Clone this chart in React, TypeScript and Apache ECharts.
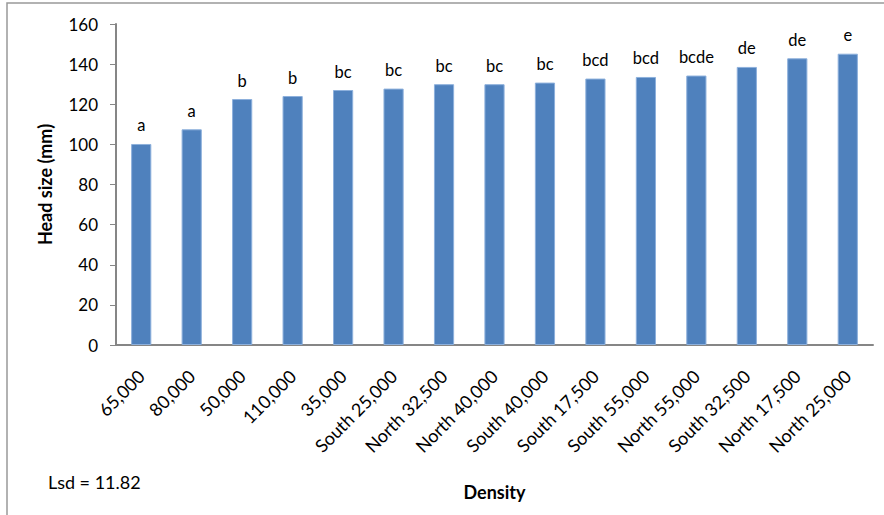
import React, { useEffect, useRef } from "react";
import * as echarts from "echarts";

const categories = [
  "65,000", "80,000", "50,000", "110,000", "35,000", "South 25,000", "North 32,500",
  "North 40,000", "South 40,000", "South 17,500", "South 55,000", "North 55,000",
  "South 32,500", "North 17,500", "North 25,000",
];
const headSize = [100.2, 107.5, 122.6, 124.1, 127.1, 127.8, 130.0, 130.0, 130.8, 132.8, 133.6, 134.3, 138.6, 142.9, 145.2];
const letters = ["a", "a", "b", "b", "bc", "bc", "bc", "bc", "bc", "bcd", "bcd", "bcde", "de", "de", "e"];
const yTicks = { min: 0, max: 160, interval: 20 };

const FONT = "Lato, 'Open Sans', sans-serif";

export default function App() {
  const ref = useRef<HTMLDivElement>(null);
  useEffect(() => {
    if (!ref.current) return;
    const chart = echarts.init(ref.current, undefined, { renderer: "svg" });
    chart.setOption({
      animation: false,
      backgroundColor: "#ffffff",
      textStyle: { fontFamily: FONT },
      grid: { left: 116, right: 11, top: 24, bottom: 170, containLabel: false },
      xAxis: {
        type: "category",
        data: categories,
        name: "Density",
        nameLocation: "middle",
        nameGap: 138,
        nameTextStyle: { fontFamily: FONT, fontSize: 18, fontWeight: "bold", color: "#000" },
        axisLine: { lineStyle: { color: "#868686", width: 2 } },
        axisTick: { show: false },
        axisLabel: { rotate: 45, interval: 0, margin: 28, fontSize: 18, color: "#000", fontFamily: FONT },
      },
      yAxis: {
        type: "value",
        min: yTicks.min,
        max: yTicks.max,
        interval: yTicks.interval,
        name: "Head size (mm)",
        nameLocation: "middle",
        nameGap: 62,
        nameTextStyle: { fontFamily: FONT, fontSize: 18, fontWeight: "bold", color: "#000" },
        axisLine: { show: true, lineStyle: { color: "#868686", width: 2 } },
        axisTick: { show: true, length: 6, lineStyle: { color: "#868686", width: 1 } },
        axisLabel: { margin: 18, fontSize: 17, color: "#000", fontFamily: FONT },
        splitLine: { show: false },
      },
      series: [
        {
          type: "bar",
          data: headSize,
          barWidth: "40%",
          itemStyle: { color: "#4F81BD", borderColor: "#8DB0DC", borderWidth: 1 },
          label: {
            show: true,
            position: "top",
            distance: 10,
            fontSize: 16.5,
            color: "#000",
            fontFamily: FONT,
            formatter: (p: any) => letters[p.dataIndex],
          },
        },
      ],
      graphic: [
        {
          type: "rect",
          shape: { x: 7, y: 3, width: 1000, height: 1000 },
          style: { fill: "none", stroke: "#999999", lineWidth: 1.5 },
          silent: true,
        },
        {
          type: "text",
          left: 48,
          top: 473,
          style: { text: "Lsd = 11.82", fontSize: 18, fill: "#000", fontFamily: FONT },
        },
      ],
    });
    return () => chart.dispose();
  }, []);
  return (
    <div
      ref={ref}
      style={{ position: "fixed", left: 0, top: 0, width: 884, height: 515, background: "#fff" }}
    />
  );
}
